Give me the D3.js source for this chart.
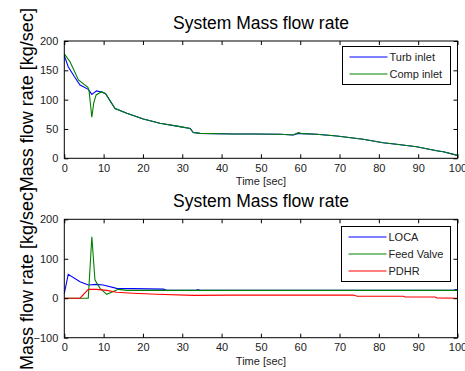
<!DOCTYPE html>
<html><head><meta charset="utf-8">
<script src="https://cdn.jsdelivr.net/npm/d3@7/dist/d3.min.js"></script>
<style>body{margin:0;background:#fff}svg{display:block}text{font-family:Arial,"Liberation Sans",sans-serif}</style>
</head><body>
<script>
// ---- data ----
const xTicks = [0,10,20,30,40,50,60,70,80,90,100];
const topYTicks = [0,50,100,150,200];
const botYTicks = [-100,0,100,200];
const titleText = "System Mass flow rate";
const yLabel = "Mass flow rate [kg/sec]";
const xLabel = "Time [sec]";

const turbT = [0,1.0,2.5,4.0,6.1,7.0,8.2,9.5,10.5,12.9,15.9,20.1,24.3,29.4,32,32.8,34.5,43,48,54.9,58.2,59.5,60.5,64.2,69.3,76,81.1,84.5,89.6,94.7,96.4,100];
const turbV = [175,156,140,125,117.6,109,115,113,110,85,76.7,67,59.7,54,51,44,42.5,41.4,41.5,40.9,39.7,42.5,42,40.9,38,32.4,26.6,23.9,19.8,13,11.3,5];
const compT = [0,1.45,3.6,6.0,6.3,7.0,7.5,8.1,9.5,10.5,12.9,15.9,20.1,24.3,29.4,32,32.8,34.5,43,48,54.9,58.2,59.5,60.5,64.2,69.3,76,81.1,84.5,89.6,94.7,96.4,100];
const compV = [178,164.7,133.5,121,115,70,95,108,113.5,110,85,76.7,67,59.7,54,51,44,42.5,41.4,41.5,40.9,39.7,43.7,42,40.9,38,32.4,26.6,23.9,19.8,13,11.3,5];

const locaT = [0,1.0,4,6.1,8.2,9.9,13.3,25.2,26,33.5,34,34.5,40,99,99.5,100];
const locaV = [12,60.5,42,33.5,35,33.5,25,23,20,20,22,20,20,20,22,22];
const feedT = [0,6.1,7.0,7.8,9.1,10.8,12.0,13.7,16,100];
const feedV = [0,0,156,46,25,10,15,22.5,20,20];
const pdhrT = [0,4,6.1,8.2,10.8,13.3,17.5,23.5,32.8,42.1,73.5,74.5,86.2,86.7,94.3,94.7,100];
const pdhrV = [0,0,22.5,22.5,20,15,12.5,10,7.3,8,8,5,5,3,3,1,0];

const topSeries = [
  {name:"Turb inlet", color:"#0000ff", t:turbT, v:turbV},
  {name:"Comp inlet", color:"#008000", t:compT, v:compV}
];
const botSeries = [
  {name:"LOCA", color:"#0000ff", t:locaT, v:locaV},
  {name:"Feed Valve", color:"#008000", t:feedT, v:feedV},
  {name:"PDHR", color:"#ff0000", t:pdhrT, v:pdhrV}
];

// ---- drawing ----
const W = 465, H = 371;
const svg = d3.select("body").append("svg").attr("width", W).attr("height", H);
svg.append("rect").attr("width", W).attr("height", H).attr("fill", "#fff");

function panel(cfg) {
  const x = d3.scaleLinear().domain([0,100]).range([64.3, 457.5]);
  const y = d3.scaleLinear().domain(cfg.yDomain).range([cfg.bottom, cfg.top]);
  const g = svg.append("g");
  const tl = 4;
  const line = d3.line().x(d => x(d[0])).y(d => y(d[1]));
  cfg.series.forEach(s => {
    g.append("path").attr("d", line(s.t.map((t,i)=>[t, s.v[i]])))
      .style("fill","none").style("stroke", s.color).style("stroke-width", "1.1px");
  });
  const xb = d3.axisBottom(x).tickValues(xTicks).tickSizeInner(-tl).tickSizeOuter(0).tickPadding(6);
  g.append("g").attr("transform", `translate(0,${cfg.bottom})`).call(xb);
  const xt = d3.axisTop(x).tickValues(xTicks).tickSizeInner(-tl).tickSizeOuter(0).tickFormat("");
  g.append("g").attr("transform", `translate(0,${cfg.top})`).call(xt);
  const yl = d3.axisLeft(y).tickValues(cfg.yTicks).tickSizeInner(-tl).tickSizeOuter(0).tickPadding(6);
  g.append("g").attr("transform", `translate(64.3,0)`).call(yl);
  const yr = d3.axisRight(y).tickValues(cfg.yTicks).tickSizeInner(-tl).tickSizeOuter(0).tickFormat("");
  g.append("g").attr("transform", `translate(457.5,0)`).call(yr);
  g.selectAll(".domain").remove();
  g.selectAll(".tick line").attr("stroke", "#000");
  g.selectAll(".tick text").attr("fill", "#222").style("font-size", "11px");
  g.append("rect").attr("x", 64.3).attr("y", cfg.top).attr("width", 457.5-64.3).attr("height", cfg.bottom-cfg.top)
    .attr("fill","none").attr("stroke","#000").attr("stroke-width",1);
  svg.append("text").attr("x", 261).attr("y", cfg.top - 12).attr("text-anchor","middle")
    .style("font-size","17.5px").attr("fill","#000").text(titleText);
  svg.append("text").attr("x", 261).attr("y", cfg.bottom + 27).attr("text-anchor","middle")
    .style("font-size","11px").attr("fill","#222").text(xLabel);
  svg.append("text").attr("transform", `translate(33,${(cfg.top+cfg.bottom)/2}) rotate(-90)`)
    .attr("text-anchor","middle").style("font-size","18px").attr("fill","#000").text(yLabel);
  const L = cfg.legend;
  const lg = svg.append("g");
  lg.append("rect").attr("x", L.x).attr("y", L.y).attr("width", L.w).attr("height", L.h)
    .attr("fill","#fff").attr("stroke","#000").attr("stroke-width",1);
  cfg.series.forEach((s,i) => {
    const yy = L.y + L.first + i*L.step;
    lg.append("path").attr("d", `M${L.x+7},${yy}H${L.x+45}`)
      .style("fill","none").style("stroke", s.color).style("stroke-width","1.2px");
    lg.append("text").attr("x", L.x+47).attr("y", yy+4).style("font-size","11px").attr("fill","#222").text(s.name);
  });
}

panel({top:41, bottom:158.3, yDomain:[0,200], yTicks:topYTicks, series:topSeries,
  legend:{x:342.5, y:46.5, w:108, h:38, first:10.5, step:17}});
panel({top:219.3, bottom:337.7, yDomain:[-100,200], yTicks:botYTicks, series:botSeries,
  legend:{x:341.5, y:226.5, w:109, h:55, first:10.5, step:17}});
</script>
</body></html>
